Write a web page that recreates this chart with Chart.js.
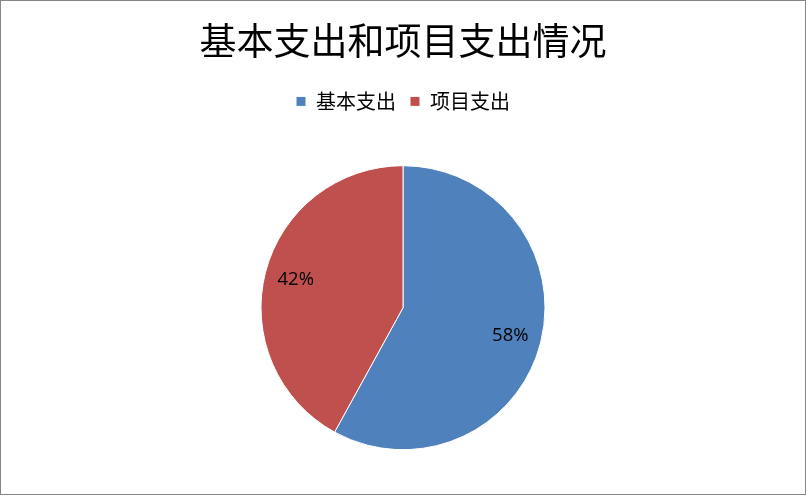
<!DOCTYPE html>
<html>
<head>
<meta charset="utf-8">
<script src="https://cdn.jsdelivr.net/npm/chart.js@4/dist/chart.umd.min.js"></script>
<style>
    html, body { margin: 0; padding: 0; background: #ffffff; }
    .frame {
        width: 806px;
        height: 495px;
        box-sizing: border-box;
        border: 1px solid #868686;
        position: relative;
    }
    .frame canvas { display: block; }
</style>
</head>
<body>
<div class="frame">
    <canvas id="pieChart" width="804" height="493"></canvas>
</div>
<script>
const chartTitle = '基本支出和项目支出情况';
const categories = ['基本支出', '项目支出'];
const shares = [58, 42];
const sliceColors = ['#4F81BD', '#C0504D'];

// draws the percent labels inside each slice
const sliceLabels = {
    id: 'sliceLabels',
    afterDatasetsDraw(chart) {
        const ctx = chart.ctx;
        const meta = chart.getDatasetMeta(0);
        const total = shares.reduce((sum, value) => sum + value, 0);
        ctx.save();
        ctx.font = '18.5px "Open Sans", sans-serif';
        ctx.fillStyle = '#000000';
        ctx.textAlign = 'center';
        ctx.textBaseline = 'middle';
        meta.data.forEach((arc, index) => {
            const { x, y, startAngle, endAngle, outerRadius } = arc.getProps(['x', 'y', 'startAngle', 'endAngle', 'outerRadius'], true);
            const mid = (startAngle + endAngle) / 2;
            const dist = outerRadius * 0.78;
            const label = Math.round(shares[index] / total * 100) + '%';
            ctx.fillText(label, x + Math.cos(mid) * dist, y + Math.sin(mid) * dist);
        });
        ctx.restore();
    }
};

document.addEventListener('DOMContentLoaded', () => {
    const canvas = document.getElementById('pieChart');
    if (!canvas) {
        return;
    }

    new Chart(canvas, {
        type: 'pie',
        data: {
            labels: categories,
            datasets: [
                {
                    data: shares,
                    backgroundColor: sliceColors,
                    borderColor: '#ffffff',
                    borderWidth: 1,
                    radius: 142
                }
            ]
        },
        options: {
            responsive: false,
            animation: false,
            layout: { padding: 0 },
            plugins: {
                title: {
                    display: true,
                    text: chartTitle,
                    color: '#000000',
                    font: { family: '"Noto Sans CJK SC", sans-serif', size: 37, weight: 'normal' },
                    padding: { top: 18, bottom: 14 }
                },
                legend: {
                    position: 'top',
                    labels: {
                        color: '#000000',
                        font: { family: '"Noto Sans CJK SC", sans-serif', size: 20 },
                        boxWidth: 10,
                        boxHeight: 10,
                        padding: 14
                    }
                },
                tooltip: { enabled: false }
            }
        },
        plugins: [sliceLabels]
    });
});
</script>
</body>
</html>
